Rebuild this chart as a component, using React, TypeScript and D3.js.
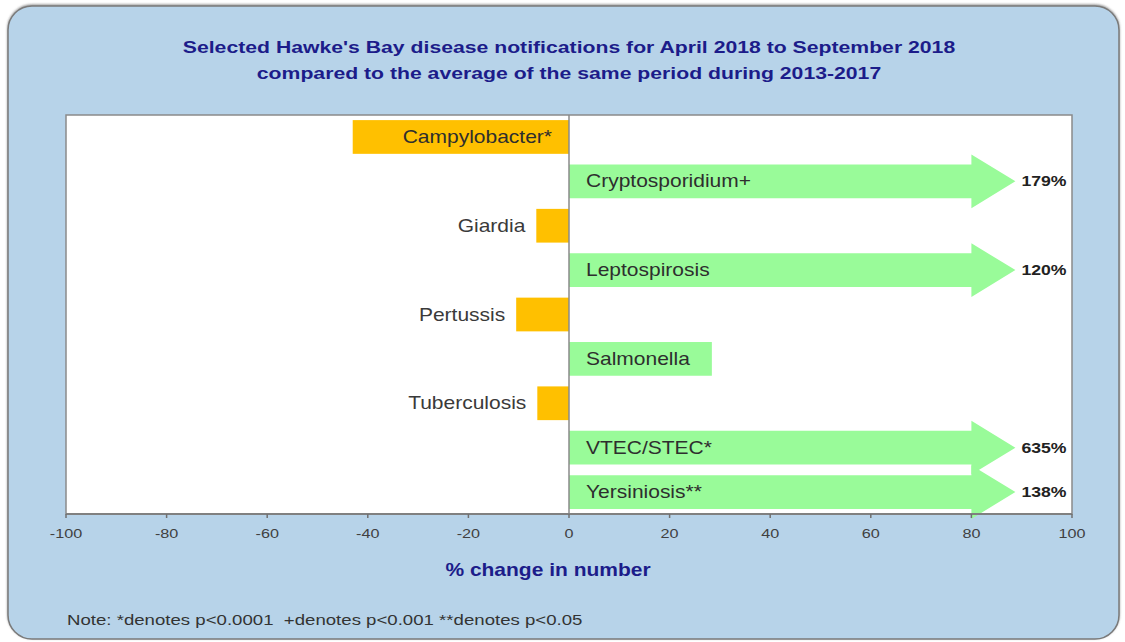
import React from "react";
import * as d3 from "d3";

const categories = [
  "Campylobacter*",
  "Cryptosporidium+",
  "Giardia",
  "Leptospirosis",
  "Pertussis",
  "Salmonella",
  "Tuberculosis",
  "VTEC/STEC*",
  "Yersiniosis**",
];
const changes = [-43, 179, -6.5, 120, -10.5, 28.4, -6.3, 635, 138];
const xTicks = [-100, -80, -60, -40, -20, 0, 20, 40, 60, 80, 100];
const titleLines = [
  "Selected Hawke's Bay disease notifications for April 2018 to September 2018",
  "compared to the average of the same period during 2013-2017",
];
const axisTitle = "% change in number";
const note = "Note: *denotes p<0.0001  +denotes p<0.001 **denotes p<0.05";
const CLIP_AT = 80;

const W = 1125;
const H = 642;
const FONT = "'Liberation Sans', Arial, sans-serif";
const SX = 1.2;
const plot = { left: 66, right: 1072, top: 115, bottom: 514 };

function measure(text: string, size: number, weight = "normal") {
  const c = document.createElement("canvas").getContext("2d");
  if (!c) return text.length * size * 0.55;
  c.font = `${weight} ${size}px ${FONT}`;
  return c.measureText(text).width * SX;
}

function T(props: any) {
  const { x, y, anchor = "start", size, weight = "normal", fill = "#333", sx = SX, children } = props;
  return (
    <text
      transform={`translate(${x},${y}) scale(${sx},1)`}
      textAnchor={anchor}
      fontSize={size}
      fontWeight={weight}
      fill={fill}
      fontFamily={FONT}
      style={{ whiteSpace: "pre" }}
    >
      {children}
    </text>
  );
}

export default function App() {
  const x = d3.scaleLinear().domain([-100, 100]).range([plot.left, plot.right]);
  const y = d3
    .scaleBand<string>()
    .domain(categories)
    .range([plot.top, plot.bottom])
    .paddingInner(0.24)
    .paddingOuter(0.115);
  const bw = y.bandwidth();
  const x0 = x(0);
  const headLen = 44;
  const headExtra = 10;
  const labelSize = 17.5;

  return (
    <svg width={W} height={H} style={{ position: "absolute", left: 0, top: 0 }}>
      <defs>
        <filter id="sh" x="-5%" y="-5%" width="110%" height="110%">
          <feDropShadow dx="0" dy="-1" stdDeviation="1" floodColor="#555" floodOpacity="0.6" />
        </filter>
      </defs>
      <rect x={0} y={0} width={W} height={H} fill="#ffffff" />
      <rect
        x={8}
        y={6}
        width={1111}
        height={633}
        rx={24}
        fill="#b7d3e9"
        stroke="#7a7a7a"
        strokeWidth={1.5}
        filter="url(#sh)"
      />
      {titleLines.map((t, i) => (
        <T key={i} x={569} y={53 + i * 26} anchor="middle" size={16.7} sx={1.27} weight="bold" fill="#1c1c8a">
          {t}
        </T>
      ))}
      <rect
        x={plot.left}
        y={plot.top}
        width={plot.right - plot.left}
        height={plot.bottom - plot.top}
        fill="#ffffff"
        stroke="#8a8a8a"
        strokeWidth={1.5}
      />
      {categories.map((c, i) => {
        const v = changes[i];
        const top = y(c)!;
        const cy = top + bw / 2;
        if (v < 0) {
          const xl = x(v);
          return <rect key={c} x={xl} y={top} width={x0 - xl} height={bw} fill="#ffc000" />;
        }
        if (v <= CLIP_AT) {
          return <rect key={c} x={x0} y={top} width={x(v) - x0} height={bw} fill="#99fb99" />;
        }
        const xe = x(CLIP_AT);
        const path = d3.path();
        path.moveTo(x0, top);
        path.lineTo(xe, top);
        path.lineTo(xe, top - headExtra);
        path.lineTo(xe + headLen, cy);
        path.lineTo(xe, top + bw + headExtra);
        path.lineTo(xe, top + bw);
        path.lineTo(x0, top + bw);
        path.closePath();
        return <path key={c} d={path.toString()} fill="#99fb99" />;
      })}
      <line x1={x0} x2={x0} y1={plot.top} y2={plot.bottom} stroke="#8a8a8a" strokeWidth={1.5} />
      <line x1={plot.left} x2={plot.right} y1={plot.bottom} y2={plot.bottom} stroke="#808080" strokeWidth={2} />
      {xTicks.map((t) => (
        <g key={t}>
          <line x1={x(t)} x2={x(t)} y1={plot.bottom} y2={plot.bottom + 4} stroke="#707070" strokeWidth={1.5} />
          <T x={x(t)} y={538} anchor="middle" size={13.5} fill="#404040">
            {String(t)}
          </T>
        </g>
      ))}
      {categories.map((c, i) => {
        const v = changes[i];
        const cy = y(c)! + bw / 2;
        const base = cy + 6;
        if (v < 0) {
          const w = measure(c, labelSize);
          const barW = x0 - x(v);
          if (barW > w + 30) {
            return (
              <T key={c} x={x0 - 17} y={base} anchor="end" size={labelSize} fill="#2e2e2e">
                {c}
              </T>
            );
          }
          return (
            <T key={c} x={x(v) - 11} y={base} anchor="end" size={labelSize} fill="#3a3a3a">
              {c}
            </T>
          );
        }
        return (
          <g key={c}>
            <T x={x0 + 17} y={base} anchor="start" size={labelSize} fill="#2e2e2e">
              {c}
            </T>
            {v > CLIP_AT && (
              <T x={x(CLIP_AT) + headLen + 6} y={cy + 5} anchor="start" size={14.7} weight="bold" fill="#222">
                {`${Math.round(v)}%`}
              </T>
            )}
          </g>
        );
      })}
      <T x={548} y={576} anchor="middle" size={17.5} weight="bold" fill="#1c1c8a">
        {axisTitle}
      </T>
      <T x={67} y={625} anchor="start" size={14} sx={1.33} fill="#333">
        {note}
      </T>
    </svg>
  );
}
